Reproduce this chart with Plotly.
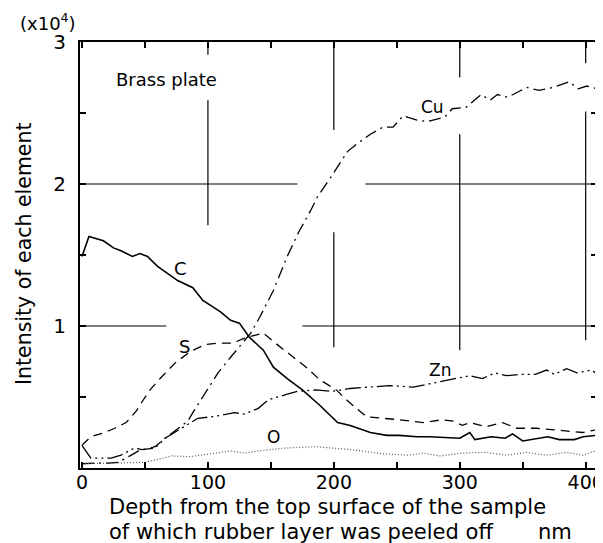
import plotly.graph_objects as go

# ---- data ----
C_x = [0, 5.5, 17, 25, 31, 40, 46, 52, 60, 70, 76, 88, 96, 110, 118, 125, 133, 144, 152, 163, 175, 189, 203, 213, 229, 242, 252, 266, 276, 300, 308, 312, 325, 336, 342, 350, 370, 379, 391, 398, 409]
C_y = [1.49, 1.63, 1.60, 1.55, 1.53, 1.49, 1.51, 1.49, 1.42, 1.36, 1.32, 1.27, 1.18, 1.10, 1.04, 1.02, 0.92, 0.83, 0.71, 0.63, 0.55, 0.44, 0.32, 0.30, 0.25, 0.23, 0.23, 0.22, 0.22, 0.21, 0.25, 0.20, 0.22, 0.21, 0.24, 0.19, 0.22, 0.20, 0.20, 0.22, 0.23]

S_x = [0, 7, 18, 26, 35, 43, 48, 54, 62, 74, 86, 98, 110, 120, 129, 144, 152, 165, 178, 189, 202, 210, 218, 226, 239, 252, 271, 286, 295, 302, 308, 321, 334, 345, 361, 374, 398, 409]
S_y = [0.16, 0.22, 0.25, 0.28, 0.32, 0.40, 0.47, 0.55, 0.63, 0.74, 0.82, 0.87, 0.88, 0.88, 0.915, 0.95, 0.89, 0.80, 0.71, 0.62, 0.55, 0.48, 0.42, 0.36, 0.35, 0.34, 0.32, 0.34, 0.33, 0.30, 0.32, 0.29, 0.32, 0.28, 0.28, 0.27, 0.25, 0.27]

Cu_x = [0, 10, 21, 29, 37, 45, 58, 66, 75, 84, 88, 98, 108, 118, 129, 134, 141, 152, 163, 172, 182, 187, 197, 203, 211, 221, 229, 239, 247, 255, 266, 274, 288, 294, 305, 317, 324, 330, 338, 353, 363, 374, 387, 394, 401, 409]
Cu_y = [0.03, 0.035, 0.035, 0.04, 0.08, 0.12, 0.15, 0.21, 0.27, 0.33, 0.39, 0.53, 0.67, 0.78, 0.90, 0.95, 1.06, 1.25, 1.49, 1.66, 1.82, 1.91, 2.04, 2.12, 2.23, 2.30, 2.35, 2.40, 2.40, 2.48, 2.45, 2.44, 2.47, 2.53, 2.54, 2.63, 2.59, 2.63, 2.61, 2.68, 2.66, 2.68, 2.72, 2.67, 2.69, 2.67]

Zn_x = [0, 7, 23, 31, 39, 43, 47, 58, 66, 75, 84, 92, 102, 110, 121, 129, 140, 148, 163, 171, 186, 199, 213, 229, 244, 263, 274, 289, 308, 318, 328, 337, 348, 360, 369, 375, 385, 393, 405, 409]
Zn_y = [0.16, 0.07, 0.07, 0.09, 0.13, 0.14, 0.13, 0.14, 0.21, 0.26, 0.31, 0.35, 0.36, 0.37, 0.39, 0.38, 0.42, 0.48, 0.52, 0.54, 0.55, 0.54, 0.56, 0.57, 0.58, 0.57, 0.59, 0.62, 0.65, 0.63, 0.67, 0.65, 0.66, 0.66, 0.69, 0.66, 0.70, 0.67, 0.69, 0.66]

O_x = [0, 20, 34, 50, 60, 71, 86, 102, 118, 129, 140, 160, 186, 213, 239, 260, 271, 284, 302, 321, 337, 353, 369, 385, 398, 409]
O_y = [0.03, 0.035, 0.04, 0.04, 0.06, 0.085, 0.08, 0.10, 0.12, 0.105, 0.12, 0.14, 0.15, 0.13, 0.10, 0.09, 0.105, 0.085, 0.105, 0.11, 0.09, 0.11, 0.09, 0.11, 0.09, 0.125]

x_ticks = [0, 100, 200, 300, 400]
x_ticktext = ["0", "100", "200", "300", "400"]
y_ticks = [1, 2, 3]
y_ticktext = ["1", "2", "3"]

FONT = "DejaVu Sans"
OFF = 8                      # default page margin of the html body
W, H = 603 - OFF, 543 - OFF  # figure size
# plot area in screen pixels: x 80..597, y 42..468
L = 80 - OFF
T = 42 - OFF
R = W - (597 - OFF)
B = H - (468 - OFF)
PW = W - L - R
PH = H - T - B

def px(x):
    return (x - OFF - L) / PW

def py(y):
    return (H - B - (y - OFF)) / PH

fig = go.Figure()
fig.add_trace(go.Scatter(x=C_x, y=C_y, mode="lines", line=dict(color="black", width=1.6), name="C"))
fig.add_trace(go.Scatter(x=S_x, y=S_y, mode="lines", line=dict(color="black", width=1.3, dash="9px,6px"), name="S"))
fig.add_trace(go.Scatter(x=Cu_x, y=Cu_y, mode="lines", line=dict(color="black", width=1.3, dash="12px,5px,2px,5px"), name="Cu"))
fig.add_trace(go.Scatter(x=Zn_x, y=Zn_y, mode="lines", line=dict(color="black", width=1.3, dash="16px,4px,2px,4px,2px,4px"), name="Zn"))
fig.add_trace(go.Scatter(x=O_x, y=O_y, mode="lines", line=dict(color="#555555", width=1.2, dash="1px,2px"), name="O"))

# broken grid lines (as in the printed figure)
grid_h = [(2, -2, 171), (2, 225, 410), (1, -2, 67), (1, 175, 410)]
grid_v = [(100, 3, 2.91), (100, 2.59, 1.71), (200, 3, 2.38), (200, 1.66, 0.85),
          (300, 3, 2.75), (300, 2.35, 0.83), (400, 3, 2.85), (400, 2.51, 0.90)]
for yv, x0, x1 in grid_h:
    fig.add_shape(type="line", xref="x", yref="y", x0=x0, x1=x1, y0=yv, y1=yv,
                  line=dict(color="black", width=1.2), layer="below")
for xv, y0, y1 in grid_v:
    fig.add_shape(type="line", xref="x", yref="y", x0=xv, x1=xv, y0=y0, y1=y1,
                  line=dict(color="black", width=1.2), layer="below")

ann = [
    ("Brass plate", 166, 80, 18),
    ("C", 180, 268, 18),
    ("S", 184, 346, 18),
    ("Cu", 432, 107, 17),
    ("Zn", 440, 370, 17),
    ("O", 273, 437, 17),
    ("(x10<sup>4</sup>)", 48, 22, 18),
]
for t, x, y, s in ann:
    fig.add_annotation(text=t, x=px(x), y=py(y), xref="paper", yref="paper",
                       xanchor="center", yanchor="middle",
                       showarrow=False, font=dict(family=FONT, size=s, color="black"))

fig.add_annotation(text="Intensity of each element", x=px(24), y=py(254), xref="paper", yref="paper",
                   xanchor="center", yanchor="middle",
                   textangle=-90, showarrow=False, font=dict(family=FONT, size=20.5, color="black"))
fig.add_annotation(text="Depth from the top surface of the sample", x=px(107), y=py(507),
                   xref="paper", yref="paper", xanchor="left", yanchor="middle", showarrow=False,
                   font=dict(family=FONT, size=21, color="black"))
fig.add_annotation(text="of which rubber layer was peeled off", x=px(107), y=py(532),
                   xref="paper", yref="paper", xanchor="left", yanchor="middle", showarrow=False,
                   font=dict(family=FONT, size=21, color="black"))
fig.add_annotation(text="nm", x=px(555), y=py(532), xref="paper", yref="paper",
                   xanchor="center", yanchor="middle",
                   showarrow=False, font=dict(family=FONT, size=21, color="black"))

fig.update_layout(
    width=W, height=H,
    margin=dict(l=L, r=R, t=T, b=B, autoexpand=False),
    paper_bgcolor="white", plot_bgcolor="white",
    showlegend=False,
    font=dict(family=FONT, size=19, color="black"),
)
fig.update_xaxes(range=[-1.6, 409], tickvals=x_ticks, ticktext=x_ticktext, automargin=False,
                 ticklabeloverflow="allow", ticklabelstandoff=-4,
                 ticks="inside", ticklen=6, tickwidth=1.5, tickcolor="black",
                 showgrid=False, zeroline=False, showline=True, linecolor="black", linewidth=2,
                 mirror="ticks",
                 minor=dict(ticks="inside", ticklen=6, tickwidth=1.5, tickcolor="black", tick0=0, dtick=50, showgrid=False),
                 tickfont=dict(family=FONT, size=19, color="black"))
fig.update_yaxes(range=[0, 3], tickvals=y_ticks, ticktext=y_ticktext, automargin=False,
                 ticklabeloverflow="allow",
                 ticks="inside", ticklen=6, tickwidth=1.5, tickcolor="black",
                 showgrid=False, zeroline=False, showline=True, linecolor="black", linewidth=2,
                 mirror="ticks", ticklabelstandoff=8,
                 minor=dict(ticks="inside", ticklen=6, tickwidth=1.5, tickcolor="black", tick0=0, dtick=0.5, showgrid=False),
                 tickfont=dict(family=FONT, size=20, color="black"))

fig.write_html("out.html")
